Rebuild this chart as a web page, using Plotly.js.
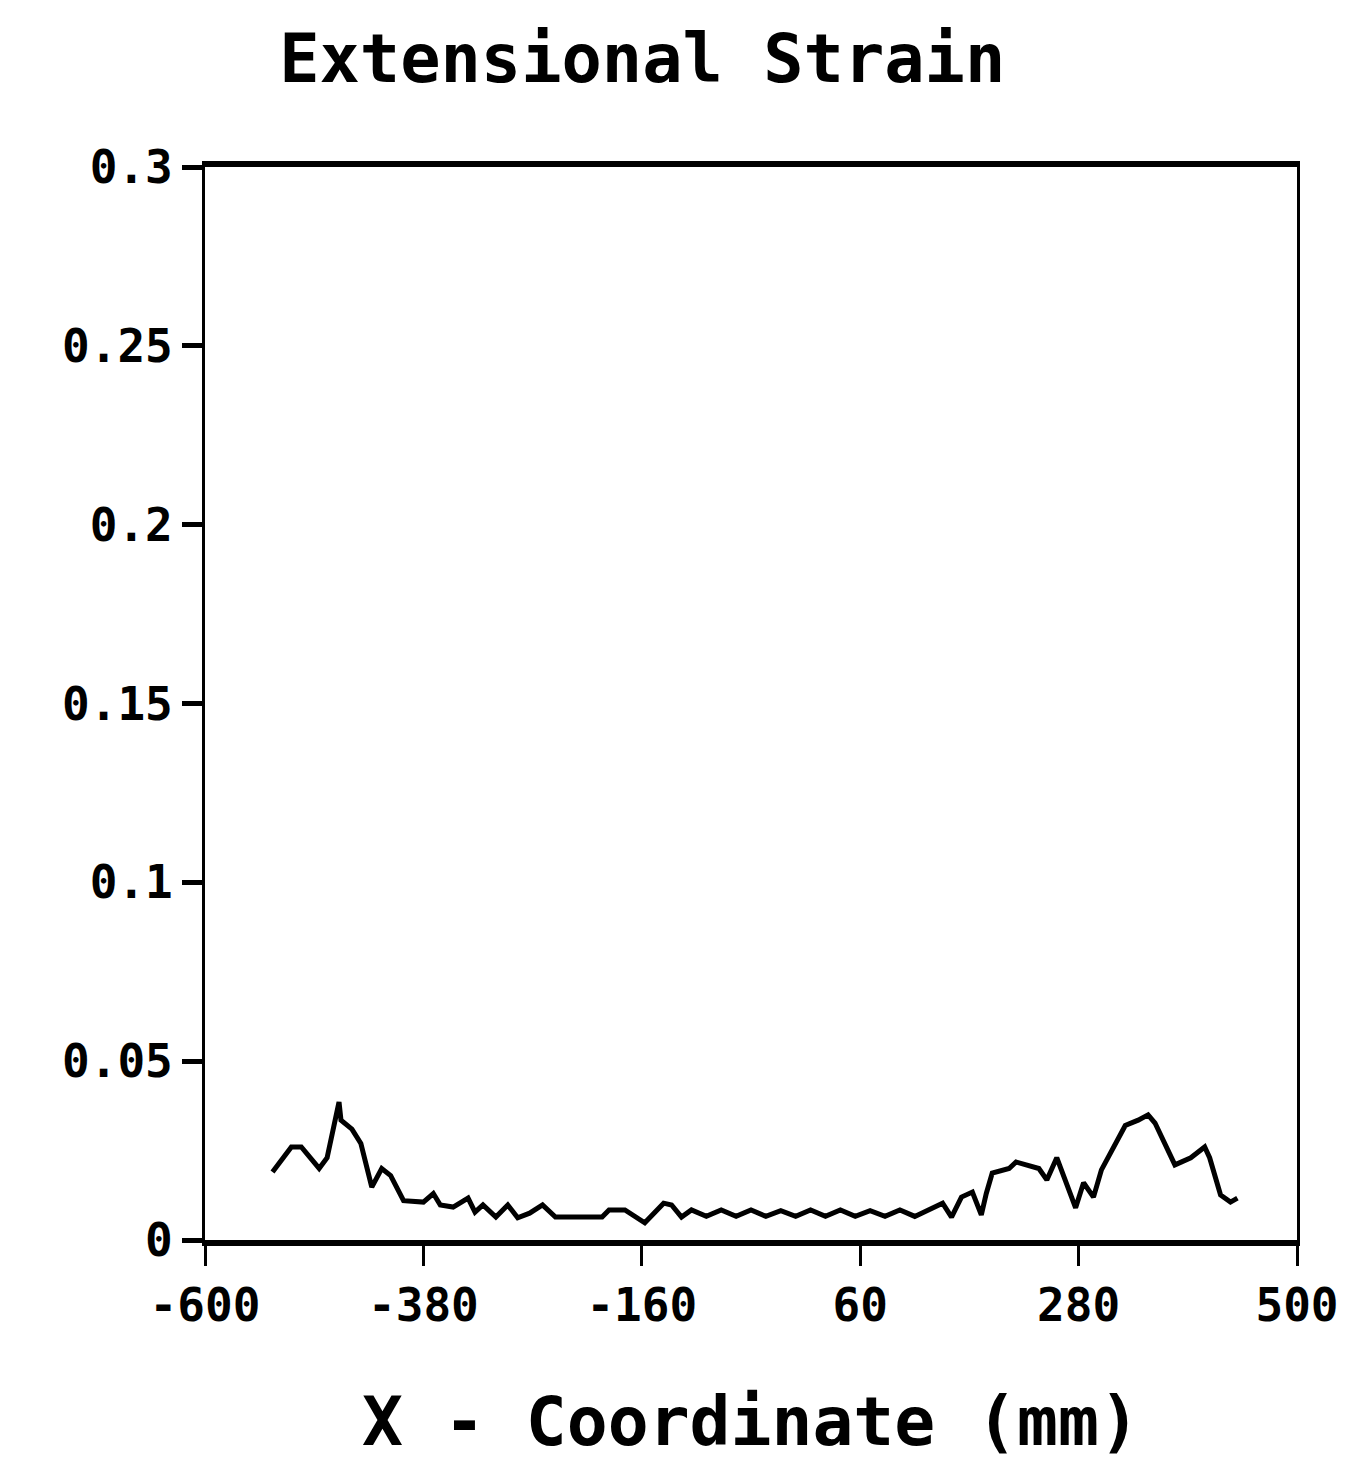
<!DOCTYPE html>
<html>
<head>
<meta charset="utf-8">
<script src="https://cdn.plot.ly/plotly-3.0.1.min.js"></script>
<style>html,body{margin:0;padding:0;background:#fff;}#chart{width:1352px;height:1467px;}</style>
</head>
<body>
<div id="chart"></div>
<script>
const xCoord = [-532,-513,-503,-485,-477,-465,-463,-452,-443,-432,-422,-413,-400,-380,-370,-363,-350,-335,-328,-320,-307,-295,-285,-273,-260,-247,-200,-193,-177,-157,-138,-130,-120,-110,-95,-80,-65,-50,-35,-20,-5,10,25,40,55,70,85,100,115,130,143,152,162,173,182,187,193,210,217,240,248,258,277,285,295,303,327,340,350,357,377,393,407,412,423,433,440];
const strain = [0.019,0.026,0.026,0.020,0.023,0.0386,0.0335,0.031,0.027,0.0148,0.020,0.018,0.011,0.0106,0.013,0.0098,0.0092,0.0117,0.0078,0.0098,0.0064,0.0098,0.0062,0.0075,0.0098,0.0064,0.0064,0.0084,0.0084,0.0048,0.0103,0.0098,0.0064,0.0084,0.0066,0.0084,0.0066,0.0084,0.0066,0.0082,0.0066,0.0084,0.0066,0.0084,0.0066,0.0082,0.0066,0.0084,0.0066,0.0084,0.0103,0.0064,0.012,0.0134,0.007,0.013,0.0187,0.020,0.0218,0.020,0.0168,0.023,0.009,0.016,0.012,0.0196,0.032,0.0335,0.035,0.0327,0.021,0.023,0.026,0.023,0.0126,0.0106,0.0117];
const xTickVals = [-600,-380,-160,60,280,500];
const xTickText = ['-600','-380','-160','60','280','500'];
const yTickVals = [0,0.05,0.1,0.15,0.2,0.25,0.3];
const yTickText = ['0','0.05','0.1','0.15','0.2','0.25','0.3'];

const fontFam = '"DejaVu Sans Mono", "Liberation Mono", monospace';

Plotly.newPlot('chart', [{
  x: xCoord, y: strain, type: 'scatter', mode: 'lines',
  line: {color: '#000', width: 5}, hoverinfo: 'skip'
}], {
  width: 1352, height: 1467,
  paper_bgcolor: '#fff', plot_bgcolor: '#fff',
  margin: {l: 205, r: 55, t: 167, b: 227},
  showlegend: false,
  title: {
    text: 'Extensional Strain',
    font: {family: fontFam, size: 67, color: '#000', weight: 'bold'},
    xref: 'container', x: 0.475, xanchor: 'center',
    yref: 'container', y: 0.96, yanchor: 'middle'
  },
  xaxis: {
    range: [-600, 500], tickmode: 'array', tickvals: xTickVals, ticktext: xTickText,
    showgrid: false, zeroline: false,
    showline: true, linecolor: '#000', linewidth: 6, mirror: true,
    ticks: 'outside', ticklen: 20, tickwidth: 3, tickcolor: '#000',
    tickfont: {family: fontFam, size: 46, color: '#000', weight: 'bold'},
    title: {text: 'X - Coordinate (mm)', standoff: 68,
      font: {family: fontFam, size: 68, color: '#000', weight: 'bold'}}
  },
  yaxis: {
    range: [0, 0.3], tickmode: 'array', tickvals: yTickVals, ticktext: yTickText,
    showgrid: false, zeroline: false,
    showline: true, linecolor: '#000', linewidth: 3, mirror: true,
    ticks: 'outside', ticklen: 20, tickwidth: 5, tickcolor: '#000',
    tickfont: {family: fontFam, size: 46, color: '#000', weight: 'bold'}
  }
}, {displayModeBar: false, staticPlot: true});
</script>
</body>
</html>
